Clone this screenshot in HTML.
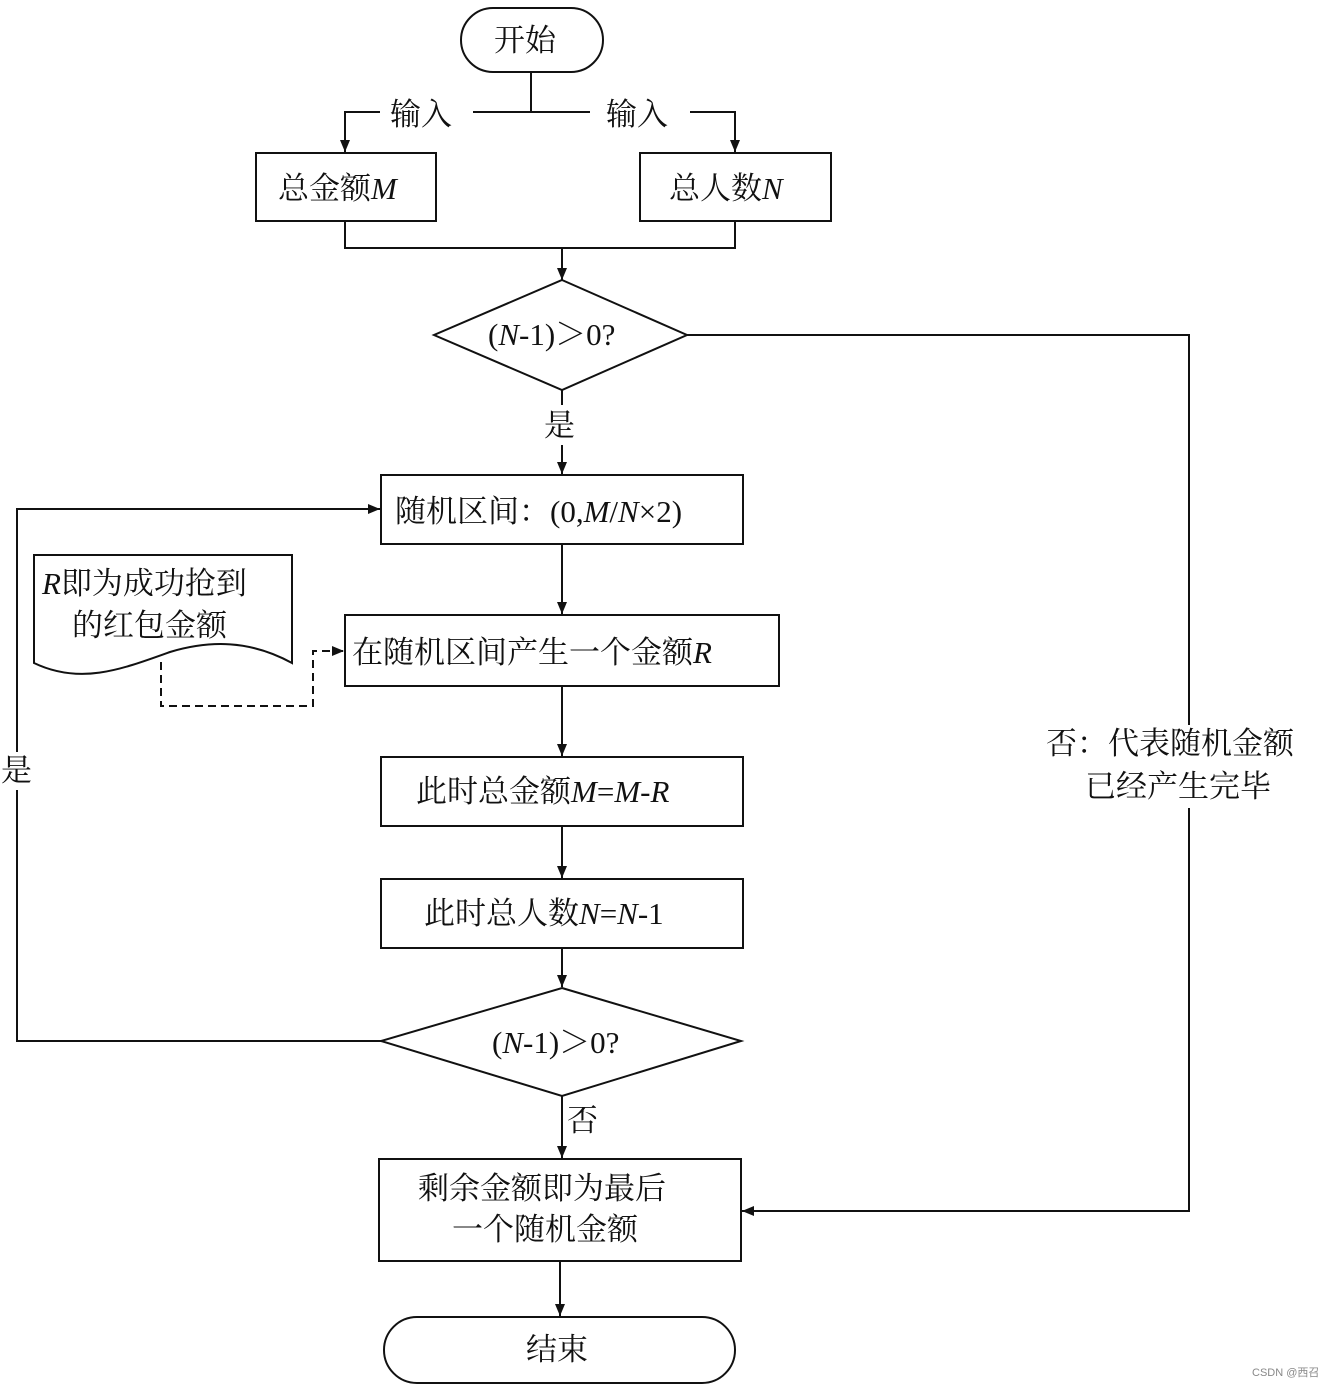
<!DOCTYPE html>
<html><head><meta charset="utf-8"><style>
html,body{margin:0;padding:0;background:#fff;}
svg text{font-family:"Liberation Serif","Noto Serif CJK SC",serif;font-size:31px;fill:#111;}
</style></head><body>
<svg width="1332" height="1387" viewBox="0 0 1332 1387" xmlns="http://www.w3.org/2000/svg">
<defs><marker id="a" markerWidth="12" markerHeight="10" refX="12" refY="5" orient="auto" markerUnits="userSpaceOnUse"><path d="M0,0 L12,5 L0,10 z" fill="#111"/></marker></defs>
<g fill="none" stroke="#111" stroke-width="2">
<rect x="461" y="8" width="142" height="64" rx="32"/>
<line x1="531" y1="72" x2="531" y2="112"/>
<polyline points="380,112 345,112 345,152" marker-end="url(#a)"/>
<polyline points="473,112 590,112"/>
<polyline points="690,112 735,112 735,152" marker-end="url(#a)"/>
<rect x="256" y="153" width="180" height="68"/>
<rect x="640" y="153" width="191" height="68"/>
<polyline points="345,221 345,248 735,248 735,221"/>
<line x1="562" y1="248" x2="562" y2="280" marker-end="url(#a)"/>
<polygon points="562,280 687,335 562,390 434,335"/>
<line x1="562" y1="390" x2="562" y2="405"/>
<line x1="562" y1="445" x2="562" y2="474" marker-end="url(#a)"/>
<polyline points="687,335 1189,335 1189,725"/>
<polyline points="1189,808 1189,1211 742,1211" marker-end="url(#a)"/>
<rect x="381" y="475" width="362" height="69"/>
<line x1="562" y1="544" x2="562" y2="614" marker-end="url(#a)"/>
<rect x="345" y="615" width="434" height="71"/>
<line x1="562" y1="686" x2="562" y2="756" marker-end="url(#a)"/>
<rect x="381" y="757" width="362" height="69"/>
<line x1="562" y1="826" x2="562" y2="878" marker-end="url(#a)"/>
<rect x="381" y="879" width="362" height="69"/>
<line x1="562" y1="948" x2="562" y2="987" marker-end="url(#a)"/>
<polygon points="562,988 741,1041 562,1096 381,1041"/>
<polyline points="381,1041 17,1041 17,790"/>
<polyline points="17,752 17,509 380,509" marker-end="url(#a)"/>
<line x1="562" y1="1096" x2="562" y2="1158" marker-end="url(#a)"/>
<rect x="379" y="1159" width="362" height="102"/>
<line x1="560" y1="1261" x2="560" y2="1316" marker-end="url(#a)"/>
<rect x="384" y="1317" width="351" height="66" rx="33"/>
<path d="M34,663 L34,555 L292,555 L292,663 C250,640 210,640 170,652 C120,670 80,685 34,663 Z"/>
<polyline points="161,662 161,706 313,706 313,651 344,651" stroke-dasharray="8,5"/>
</g>
<path d="M332,646 L344,651 L332,656 z" fill="#111"/>
<text x="494" y="51">开始</text>
<text x="390" y="125">输入</text>
<text x="606" y="125">输入</text>
<text x="278" y="199">总金额<tspan font-style="italic">M</tspan></text>
<text x="669" y="199">总人数<tspan font-style="italic">N</tspan></text>
<text x="488" y="345">(<tspan font-style="italic">N</tspan>-1)＞0?</text>
<text x="544" y="436">是</text>
<text x="395" y="522">随机区间：(0,<tspan font-style="italic">M</tspan>/<tspan font-style="italic">N</tspan>×2)</text>
<text x="42" y="594"><tspan font-style="italic">R</tspan>即为成功抢到</text>
<text x="72" y="636">的红包金额</text>
<text x="352" y="663">在随机区间产生一个金额<tspan font-style="italic">R</tspan></text>
<text x="416" y="802">此时总金额<tspan font-style="italic">M</tspan>=<tspan font-style="italic">M</tspan>-<tspan font-style="italic">R</tspan></text>
<text x="424" y="924">此时总人数<tspan font-style="italic">N</tspan>=<tspan font-style="italic">N</tspan>-1</text>
<text x="492" y="1053">(<tspan font-style="italic">N</tspan>-1)＞0?</text>
<text x="567" y="1131">否</text>
<text x="1" y="781">是</text>
<text x="1046" y="754">否：代表随机金额</text>
<text x="1085" y="797">已经产生完毕</text>
<text x="418" y="1199">剩余金额即为最后</text>
<text x="452" y="1240">一个随机金额</text>
<text x="526" y="1360">结束</text>
<text x="1252" y="1376" style="font-size:11px;fill:#888;font-family:'Liberation Sans','Noto Sans CJK SC',sans-serif">CSDN @西召</text>
</svg>
</body></html>
